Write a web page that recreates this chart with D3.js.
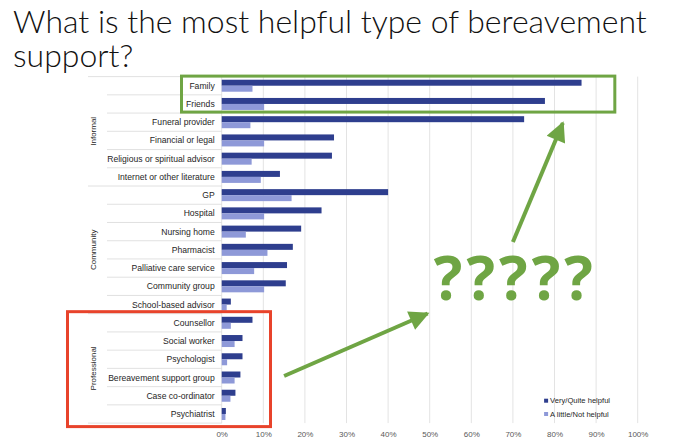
<!DOCTYPE html>
<html>
<head>
<meta charset="utf-8">
<script src="https://cdn.jsdelivr.net/npm/d3@7"></script>
<style>
  body { margin: 0; background: #ffffff; }
  svg { display: block; }
</style>
</head>
<body>
<svg id="chart"></svg>
<script>
//Chart data
var categories = ["Family", "Friends", "Funeral provider", "Financial or legal",
    "Religious or spiritual advisor", "Internet or other literature",
    "GP", "Hospital", "Nursing home", "Pharmacist", "Palliative care service",
    "Community group", "School-based advisor",
    "Counsellor", "Social worker", "Psychologist", "Bereavement support group",
    "Case co-ordinator", "Psychiatrist"];
var groupNames = ["Informal", "Community", "Professional"];
var groupSizes = [6, 7, 6];
var veryHelpful = [86.5, 77.7, 72.7, 27.0, 26.5, 14.0,
    40.0, 24.0, 19.1, 17.1, 15.7, 15.4, 2.2,
    7.4, 5.0, 5.0, 4.5, 3.3, 1.0];
var littleHelpful = [7.4, 10.2, 6.9, 10.2, 7.2, 9.4,
    16.8, 10.2, 5.8, 11.0, 7.8, 10.2, 1.2,
    2.2, 3.1, 1.3, 3.1, 2.1, 0.9];
var seriesNames = ["Very/Quite helpful", "A little/Not helpful"];
var xTicks = [0, 10, 20, 30, 40, 50, 60, 70, 80, 90, 100];
var titleLines = ["What is the most helpful type of bereavement", "support?"];

//Dimensions
var dimensions = { width: 680, height: 448 };
var plot = { left: 221.7, right: 637.7, top: 76.6, bottom: 423.1 };
var colors = { dark: "#2e3e8e", light: "#8e99d8", green: "#6fa544", red: "#e8432b", grid: "#e3e3e3" };

var svg = d3.select("#chart")
    .attr("width", dimensions.width)
    .attr("height", dimensions.height);

//Scales
var xScale = d3.scaleLinear().domain([0, 100]).range([plot.left, plot.right]);
var yScale = d3.scaleBand().domain(categories).range([plot.top, plot.bottom]);
var subScale = d3.scaleBand().domain(seriesNames).range([0, yScale.bandwidth()]).paddingOuter(0.52);

//Title (one text, two lines)
var title = svg.append("text")
    .style("font-family", "Lato, 'Open Sans', sans-serif")
    .style("font-weight", 300)
    .style("font-size", "30px")
    .style("fill", "#111");
title.selectAll("tspan")
    .data(titleLines)
    .join("tspan")
    .attr("x", 13)
    .attr("y", function(d, i){ return 33.3 + i * 33.4; })
    .text(function(d){ return d; });
//fit first line to the width in the picture
var firstLine = title.select("tspan").node();
var scale = 634 / firstLine.getComputedTextLength();
title.style("font-size", (30 * scale) + "px");

//Gridlines
svg.append("g")
    .selectAll("line")
    .data(xTicks)
    .join("line")
    .attr("x1", function(d){ return xScale(d); })
    .attr("x2", function(d){ return xScale(d); })
    .attr("y1", plot.top)
    .attr("y2", plot.bottom)
    .style("stroke", colors.grid)
    .style("stroke-width", 1);

//X-axis
var xAxisGen = d3.axisBottom(xScale)
    .tickValues(xTicks)
    .tickSize(0)
    .tickFormat(function(d){ return d + "%"; });
var xAxis = svg.append("g")
    .attr("transform", "translate(0," + (plot.bottom + 5) + ")")
    .call(xAxisGen);
xAxis.select(".domain").remove();
xAxis.selectAll("text")
    .style("font-family", "'Liberation Sans', Arial, sans-serif")
    .style("font-size", "8px")
    .style("fill", "#595959");

//Row separators and group boundaries
var boundaries = [0];
groupSizes.forEach(function(n, i){ boundaries.push(boundaries[i] + n); });
var rowLines = d3.range(categories.length + 1);
svg.append("g")
    .selectAll("line")
    .data(rowLines)
    .join("line")
    .attr("x1", function(d){ return boundaries.indexOf(d) >= 0 ? 88 : 107; })
    .attr("x2", plot.left)
    .attr("y1", function(d){ return plot.top + d * yScale.step(); })
    .attr("y2", function(d){ return plot.top + d * yScale.step(); })
    .style("stroke", "#d9d9d9")
    .style("stroke-width", 0.8);

//Category labels
svg.append("g")
    .selectAll("text")
    .data(categories)
    .join("text")
    .attr("x", plot.left - 7)
    .attr("y", function(d){ return yScale(d) + yScale.bandwidth() / 2; })
    .attr("dy", "0.35em")
    .attr("text-anchor", "end")
    .style("font-family", "'Liberation Sans', Arial, sans-serif")
    .style("font-size", "8.6px")
    .style("fill", "#262626")
    .text(function(d){ return d; });

//Group labels
svg.append("g")
    .selectAll("text")
    .data(groupNames)
    .join("text")
    .attr("transform", function(d, i){
        var y0 = plot.top + boundaries[i] * yScale.step();
        var y1 = plot.top + boundaries[i + 1] * yScale.step();
        return "translate(96," + ((y0 + y1) / 2) + ") rotate(-90)";
    })
    .attr("text-anchor", "middle")
    .style("font-family", "'Liberation Sans', Arial, sans-serif")
    .style("font-size", "8px")
    .style("fill", "#262626")
    .text(function(d){ return d; });

//Bars
var rows = categories.map(function(c, i){
    return { cat: c, values: [veryHelpful[i], littleHelpful[i]] };
});
var barGroups = svg.append("g")
    .selectAll("g")
    .data(rows)
    .join("g")
    .attr("transform", function(d){ return "translate(0," + yScale(d.cat) + ")"; });
barGroups.selectAll("rect")
    .data(function(d){ return d.values.map(function(v, j){ return { name: seriesNames[j], value: v }; }); })
    .join("rect")
    .attr("x", xScale(0))
    .attr("y", function(d){ return subScale(d.name); })
    .attr("width", function(d){ return xScale(d.value) - xScale(0); })
    .attr("height", subScale.bandwidth())
    .style("fill", function(d, j){ return j === 0 ? colors.dark : colors.light; });

//Legend
var legend = svg.append("g")
    .selectAll("g")
    .data(seriesNames)
    .join("g")
    .attr("transform", function(d, i){ return "translate(" + xScale(77.5) + "," + (400.7 + i * 13.3) + ")"; });
legend.append("rect")
    .attr("x", 0)
    .attr("y", -2)
    .attr("width", 4)
    .attr("height", 4)
    .style("fill", function(d, i){ return i === 0 ? colors.dark : colors.light; });
legend.append("text")
    .attr("x", 6)
    .attr("dy", "0.35em")
    .style("font-family", "'Liberation Sans', Arial, sans-serif")
    .style("font-size", "7.6px")
    .style("fill", "#262626")
    .text(function(d){ return d; });

//Annotations
var step = yScale.step();
var startFamily = yScale("Family");
var startProf = plot.top + boundaries[2] * step;

svg.append("rect")
    .attr("x", 181.5)
    .attr("y", startFamily - 0.5)
    .attr("width", xScale(94.5) - 181.5)
    .attr("height", 2 * step - 0.5)
    .style("fill", "none")
    .style("stroke", colors.green)
    .style("stroke-width", 3);

svg.append("rect")
    .attr("x", 67.5)
    .attr("y", startProf - 2)
    .attr("width", 203)
    .attr("height", plot.bottom - startProf + 5.5)
    .style("fill", "none")
    .style("stroke", colors.red)
    .style("stroke-width", 3);

svg.append("defs").append("marker")
    .attr("id", "arrow")
    .attr("viewBox", "0 0 10 10")
    .attr("refX", 9)
    .attr("refY", 5)
    .attr("markerWidth", 5.5)
    .attr("markerHeight", 5)
    .attr("orient", "auto")
    .attr("markerUnits", "strokeWidth")
    .append("path")
    .attr("d", "M0,0 L10,5 L0,10 Z")
    .style("fill", colors.green);

var arrows = [
    { x1: 15, y1: 376, x2: 49.5, y2: 313.5 },
    { x1: 70, y1: 242, x2: 82, y2: 123 }
];
svg.append("g")
    .selectAll("line")
    .data(arrows)
    .join("line")
    .attr("x1", function(d){ return xScale(d.x1); })
    .attr("y1", function(d){ return d.y1; })
    .attr("x2", function(d){ return xScale(d.x2); })
    .attr("y2", function(d){ return d.y2; })
    .style("stroke", colors.green)
    .style("stroke-width", 4)
    .attr("marker-end", "url(#arrow)");

svg.append("text")
    .attr("x", xScale(70.6))
    .attr("y", 300)
    .attr("text-anchor", "middle")
    .style("font-family", "'Open Sans', 'Noto Sans', sans-serif")
    .style("font-weight", 700)
    .style("font-size", "60px")
    .style("letter-spacing", "4px")
    .style("fill", colors.green)
    .text("?????");
</script>
</body>
</html>
